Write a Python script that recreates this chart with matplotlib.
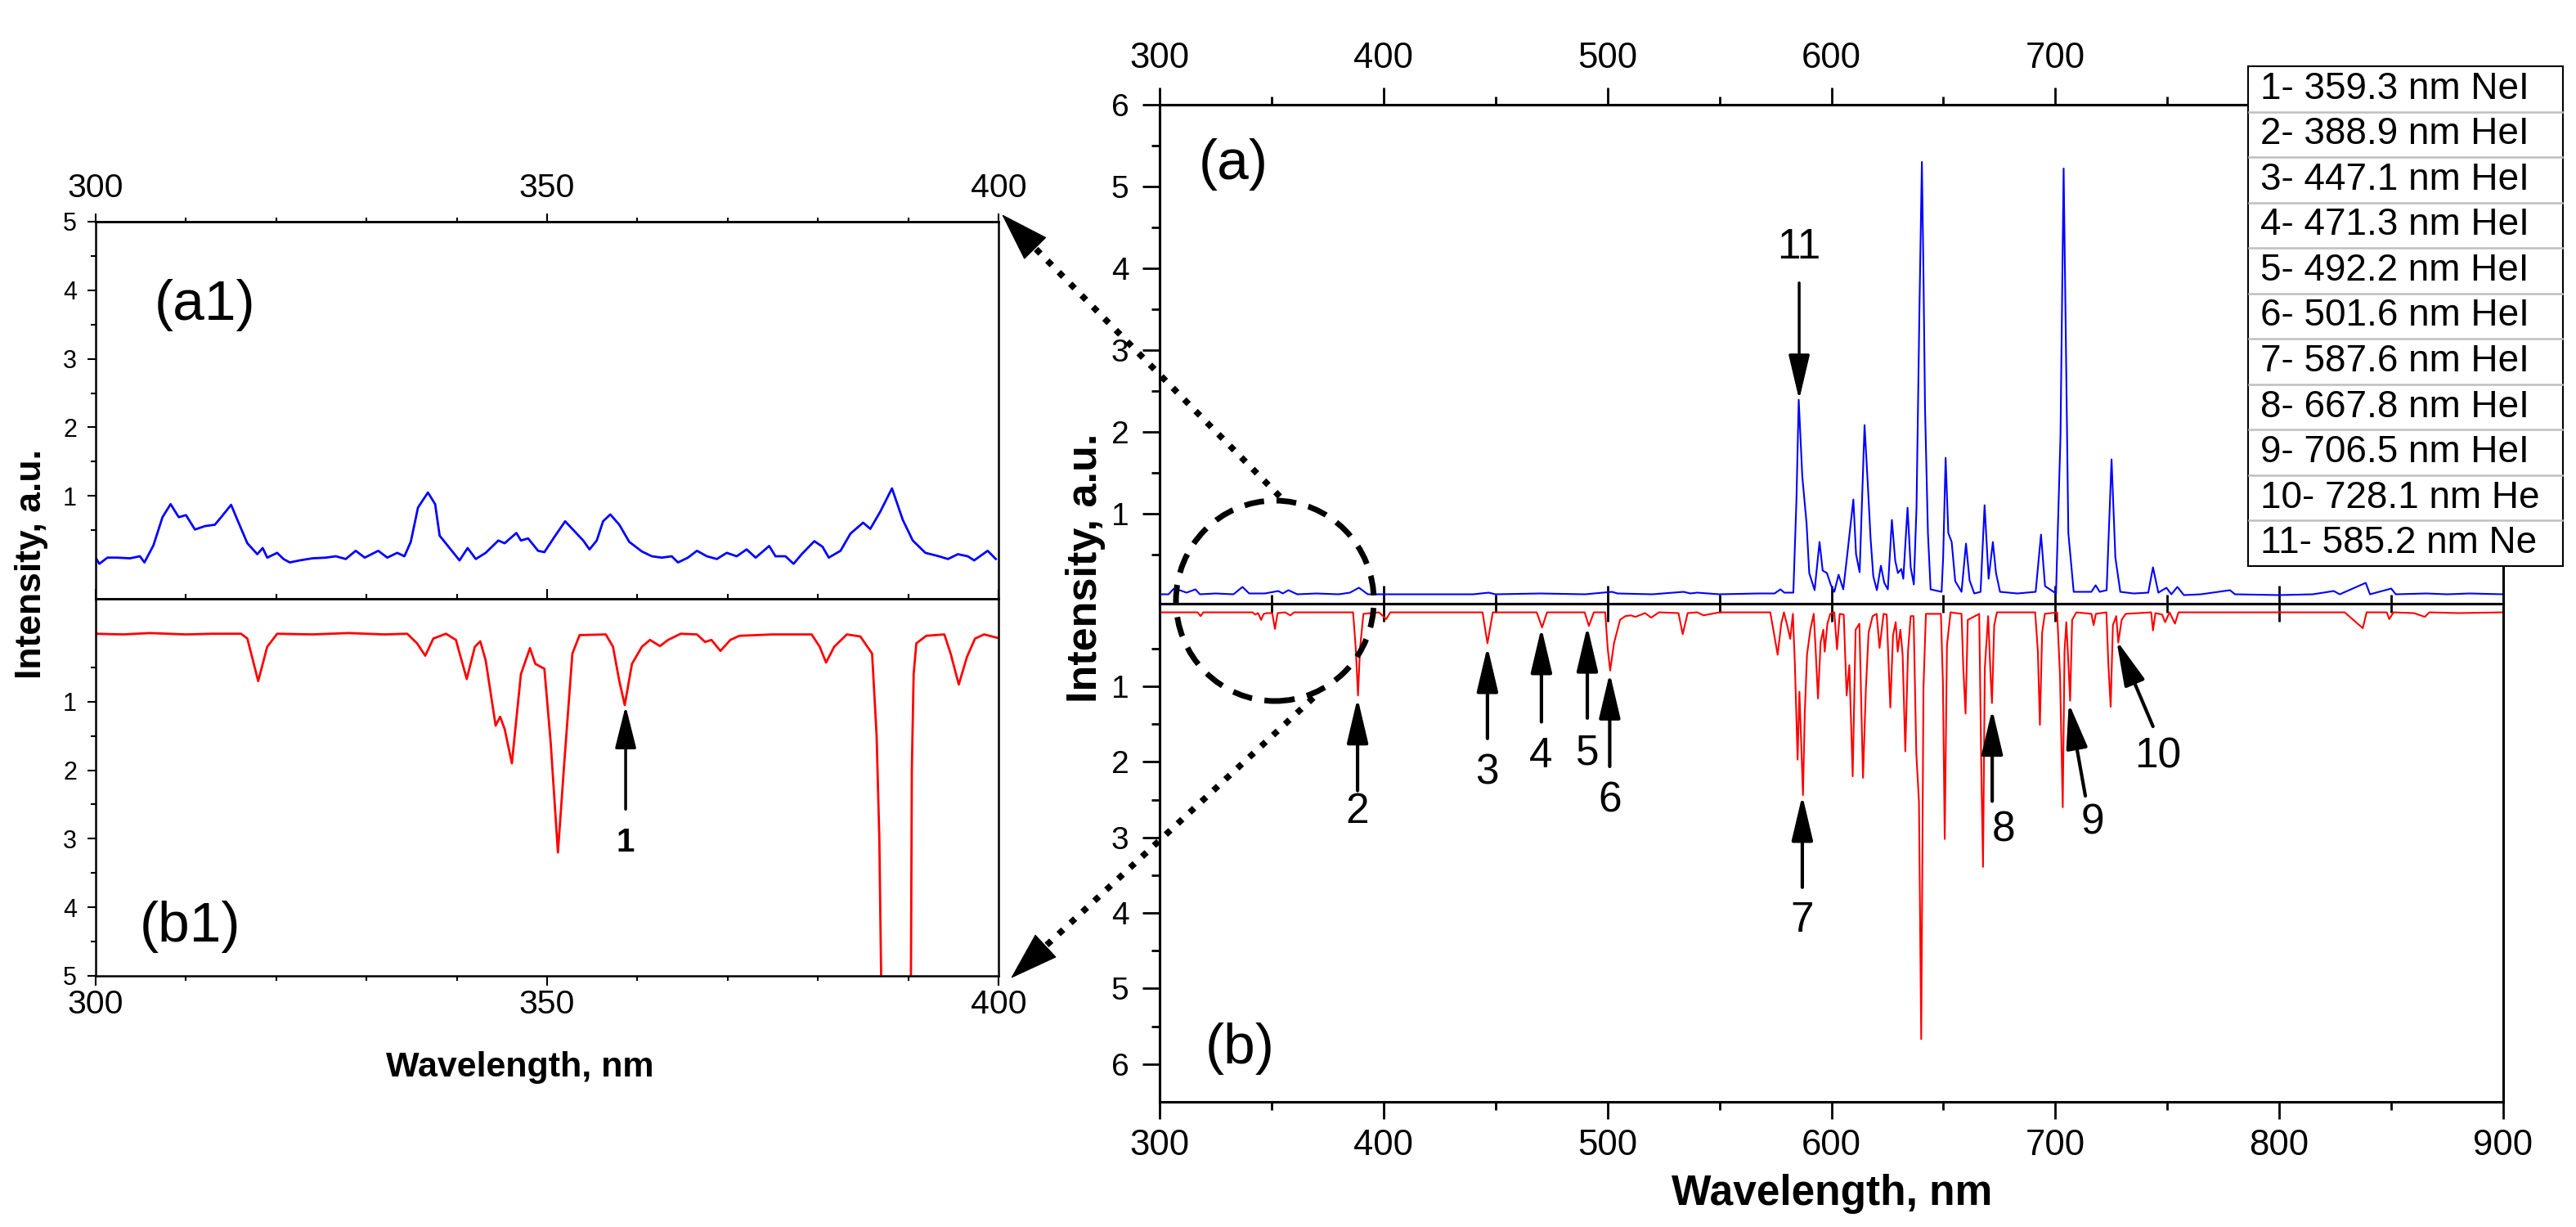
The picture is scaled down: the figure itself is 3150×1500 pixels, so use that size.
import matplotlib
matplotlib.use('Agg')
import matplotlib.pyplot as plt
import numpy as np
from matplotlib.ticker import MultipleLocator, FixedLocator, FuncFormatter
from matplotlib.patches import Ellipse, Rectangle, FancyArrowPatch
from matplotlib.lines import Line2D

plt.rcParams['font.family'] = ['Liberation Sans', 'DejaVu Sans']

# ---- zoomed emission spectrum (a1), 300-400 nm
a1_nm = [300.0, 300.4, 301.3, 302.4, 303.8, 304.9, 305.4, 306.4, 307.4, 308.3,
         309.2, 310.0, 311.0, 312.1, 313.2, 313.9, 315.0, 315.7, 316.8, 317.9,
         318.5, 319.0, 320.1, 320.8, 321.5, 322.6, 324.0, 325.5, 326.6, 327.7,
         328.8, 329.8, 331.3, 332.3, 333.4, 334.2, 334.9, 335.7, 336.8, 337.6,
         338.1, 339.2, 340.3, 341.2, 342.1, 343.2, 344.6, 345.3, 346.6, 347.1,
         347.9, 349.0, 349.7, 350.8, 352.0, 353.0, 354.0, 354.7, 355.5, 356.2,
         357.0, 358.0, 359.1, 360.5, 361.6, 362.7, 363.8, 364.5, 365.6, 366.6,
         367.7, 368.8, 369.9, 371.0, 372.1, 373.1, 374.6, 375.3, 376.4, 377.3,
         378.2, 379.6, 380.5, 381.2, 382.5, 383.6, 385.0, 385.8, 386.9, 388.2,
         389.4, 390.5, 391.9, 393.4, 394.4, 395.5, 396.6, 397.3, 398.8, 399.7]
a1_int = [0.10, 0.01, 0.10, 0.10, 0.09, 0.12, 0.03, 0.28, 0.69, 0.88,
          0.69, 0.72, 0.51, 0.56, 0.58, 0.69, 0.87, 0.65, 0.31, 0.15,
          0.24, 0.10, 0.17, 0.08, 0.03, 0.06, 0.09, 0.10, 0.12, 0.08,
          0.20, 0.10, 0.20, 0.10, 0.17, 0.12, 0.33, 0.83, 1.05, 0.88,
          0.42, 0.24, 0.06, 0.24, 0.08, 0.17, 0.35, 0.31, 0.46, 0.35,
          0.38, 0.20, 0.18, 0.40, 0.63, 0.49, 0.35, 0.22, 0.35, 0.63,
          0.73, 0.58, 0.33, 0.19, 0.12, 0.10, 0.12, 0.03, 0.10, 0.20,
          0.12, 0.08, 0.17, 0.12, 0.22, 0.10, 0.27, 0.12, 0.12, 0.01,
          0.15, 0.34, 0.26, 0.10, 0.20, 0.45, 0.61, 0.52, 0.77, 1.11,
          0.65, 0.35, 0.17, 0.12, 0.08, 0.15, 0.12, 0.06, 0.20, 0.08]

# ---- zoomed reference spectrum (b1), 300-400 nm
b1_nm = [300.0, 303.0, 306.0, 310.0, 313.0, 316.1, 316.8, 318.0, 319.0, 320.1,
         324.0, 328.0, 332.0, 334.5, 335.6, 336.5, 337.4, 338.8, 339.9, 341.1,
         342.0, 342.6, 343.2, 344.3, 344.8, 345.3, 346.1, 347.1, 348.1, 348.7,
         349.7, 350.4, 351.2, 351.9, 352.8, 353.6, 356.5, 357.3, 358.0, 358.6,
         359.4, 360.5, 361.4, 362.5, 363.4, 364.8, 366.6, 367.5, 368.2, 369.2,
         370.3, 371.3, 375.0, 379.3, 380.2, 380.9, 381.8, 383.2, 384.7, 386.0,
         386.5, 386.8, 387.0, 388.7, 390.3, 390.4, 390.6, 390.9, 392.0, 394.0,
         394.7, 395.6, 396.5, 397.4, 398.4, 399.9]
b1_int = [0.01, 0.02, 0.00, 0.02, 0.01, 0.01, 0.08, 0.70, 0.20, 0.01,
          0.02, 0.00, 0.02, 0.01, 0.15, 0.33, 0.08, 0.01, 0.10, 0.67,
          0.20, 0.12, 0.40, 1.35, 1.22, 1.40, 1.90, 0.60, 0.22, 0.45,
          0.52, 1.60, 3.20, 1.90, 0.30, 0.03, 0.02, 0.20, 0.70, 1.05,
          0.45, 0.20, 0.10, 0.19, 0.10, 0.01, 0.02, 0.13, 0.10, 0.26,
          0.10, 0.04, 0.02, 0.02, 0.20, 0.43, 0.20, 0.02, 0.05, 0.30,
          1.50, 3.00, 5.00, 9.00, 5.00, 2.00, 0.60, 0.15, 0.04, 0.02,
          0.30, 0.75, 0.35, 0.08, 0.02, 0.07]

# ---- full emission spectrum (a), 300-900 nm
a_nm = [300.0, 304.0, 306.2, 309.0, 312.0, 316.0, 318.0, 325.0, 333.0, 337.0,
        340.0, 347.0, 353.0, 355.0, 357.5, 361.5, 370.0, 380.0, 385.0, 389.0,
        393.0, 400.0, 420.0, 440.0, 447.0, 450.0, 470.0, 490.0, 502.0, 504.5,
        520.0, 534.0, 537.0, 540.0, 550.0, 567.3, 574.6, 577.2, 579.0, 583.0,
        584.4, 585.4, 587.0, 588.9, 590.1, 592.5, 594.7, 596.1, 598.0, 599.8,
        601.3, 603.2, 605.3, 607.1, 609.8, 611.0, 612.6, 614.8, 616.2, 617.5,
        618.7, 620.3, 622.1, 623.6, 625.2, 627.0, 628.5, 629.7, 631.2, 632.1,
        634.0, 635.4, 636.8, 638.0, 639.3, 640.4, 641.1, 641.8, 643.1, 644.3,
        649.2, 649.9, 651.0, 652.2, 653.7, 655.3, 658.1, 660.1, 661.7, 663.8,
        666.6, 668.4, 670.2, 672.1, 673.5, 675.3, 683.0, 691.2, 693.6, 695.4,
        700.3, 702.3, 703.7, 704.7, 705.8, 708.2, 716.1, 718.0, 719.8, 722.9,
        725.1, 726.8, 729.0, 735.0, 741.5, 743.6, 746.0, 749.6, 751.8, 754.5,
        757.4, 765.0, 778.0, 780.2, 800.0, 815.0, 824.3, 827.0, 838.6, 840.5,
        850.0, 852.0, 865.7, 875.0, 885.0, 900.0]
a_int = [0.01, 0.01, 0.075, 0.06, 0.03, 0.07, 0.01, 0.02, 0.01, 0.10,
         0.02, 0.02, 0.05, 0.02, 0.06, 0.01, 0.02, 0.01, 0.03, 0.09,
         0.01, 0.01, 0.01, 0.01, 0.03, 0.01, 0.02, 0.01, 0.04, 0.02,
         0.01, 0.04, 0.02, 0.03, 0.01, 0.02, 0.02, 0.07, 0.03, 0.03,
         1.18, 2.39, 1.45, 0.88, 0.27, 0.06, 0.65, 0.30, 0.27, 0.12,
         0.04, 0.25, 0.07, 0.50, 1.17, 0.50, 0.28, 2.08, 1.38, 0.69,
         0.23, 0.06, 0.36, 0.15, 0.07, 0.92, 0.42, 0.27, 0.32, 0.20,
         1.07, 0.34, 0.13, 1.07, 3.48, 5.30, 3.95, 2.29, 0.76, 0.07,
         0.04, 0.46, 1.68, 0.76, 0.65, 0.17, 0.04, 0.63, 0.18, 0.02,
         0.04, 1.10, 0.20, 0.65, 0.27, 0.04, 0.02, 0.04, 0.74, 0.11,
         0.02, 1.95, 5.22, 3.10, 0.76, 0.04, 0.04, 0.12, 0.04, 0.06,
         1.66, 0.46, 0.04, 0.02, 0.03, 0.34, 0.03, 0.09, 0.01, 0.10,
         0.00, 0.01, 0.06, 0.01, 0.00, 0.01, 0.05, 0.01, 0.15, 0.01,
         0.08, 0.01, 0.02, 0.01, 0.02, 0.01]

# ---- full reference spectrum (b), 300-900 nm
b_nm = [300.0, 310.0, 317.0, 318.3, 319.5, 330.0, 341.5, 342.7, 344.0, 345.3,
        346.5, 348.0, 350.3, 351.5, 352.7, 356.0, 358.4, 360.0, 375.0, 386.4,
        387.6, 388.6, 389.5, 391.0, 398.0, 401.2, 403.0, 420.0, 444.2, 446.4,
        448.8, 460.0, 468.4, 470.8, 473.0, 480.0, 489.8, 491.7, 493.9, 499.0,
        500.1, 501.2, 502.9, 505.6, 508.0, 510.4, 512.5, 516.8, 519.5, 523.0,
        531.7, 533.6, 535.8, 540.1, 542.9, 550.0, 560.0, 567.3, 572.7, 574.3,
        576.0, 577.6, 578.8, 580.4, 581.6, 582.8, 583.7, 584.9, 585.7, 586.3,
        587.3, 588.1, 589.1, 590.6, 592.1, 593.0, 594.0, 595.2, 596.4, 597.0,
        598.2, 599.5, 601.3, 602.5, 603.7, 605.5, 606.8, 608.0, 609.5, 610.8,
        612.5, 614.1, 615.4, 616.6, 618.4, 620.2, 621.5, 623.3, 624.7, 626.3,
        627.5, 628.7, 629.6, 630.8, 631.8, 633.0, 634.2, 635.4, 636.7, 637.9,
        639.1, 640.1, 641.1, 642.2, 648.9, 649.8, 650.6, 651.6, 653.2, 658.1,
        658.9, 659.9, 660.9, 666.0, 667.0, 667.7, 668.5, 670.0, 671.1, 671.7,
        672.7, 673.9, 691.0, 692.2, 693.1, 694.1, 695.3, 700.8, 702.1, 703.3,
        704.1, 704.9, 705.7, 706.6, 707.5, 709.4, 716.1, 717.1, 718.1, 722.8,
        723.7, 724.7, 725.7, 727.2, 728.1, 729.6, 731.4, 742.8, 743.6, 744.7,
        747.7, 749.0, 751.0, 753.4, 755.0, 790.0, 829.2, 837.3, 839.0, 848.0,
        849.1, 851.0, 860.1, 865.0, 867.0, 880.0, 900.0]
b_int = [0.02, 0.02, 0.02, 0.07, 0.02, 0.02, 0.02, 0.05, 0.03, 0.12,
         0.04, 0.03, 0.03, 0.24, 0.03, 0.02, 0.06, 0.02, 0.02, 0.02,
         0.50, 1.12, 0.50, 0.04, 0.02, 0.11, 0.02, 0.02, 0.02, 0.43,
         0.02, 0.02, 0.02, 0.22, 0.02, 0.02, 0.02, 0.20, 0.02, 0.02,
         0.50, 0.79, 0.43, 0.12, 0.07, 0.06, 0.08, 0.03, 0.09, 0.02,
         0.03, 0.31, 0.03, 0.02, 0.06, 0.02, 0.02, 0.02, 0.02, 0.29,
         0.58, 0.17, 0.02, 0.21, 0.37, 0.04, 0.72, 1.97, 1.07, 1.57,
         2.44, 1.36, 0.58, 0.25, 0.04, 0.54, 1.16, 0.41, 0.25, 0.54,
         0.17, 0.04, 0.02, 0.51, 0.04, 0.05, 1.12, 0.72, 2.19, 0.25,
         0.17, 2.21, 1.03, 0.29, 0.07, 0.04, 0.49, 0.04, 0.05, 1.28,
         0.33, 0.15, 0.54, 0.25, 0.58, 1.86, 0.54, 0.07, 0.07, 1.88,
         2.53, 5.67, 1.03, 0.04, 0.04, 0.96, 3.02, 0.46, 0.02, 0.04,
         0.76, 1.36, 0.12, 0.04, 2.21, 3.39, 0.76, 0.07, 0.87, 1.22,
         0.19, 0.02, 0.02, 0.54, 1.51, 0.29, 0.04, 0.02, 0.87, 2.60,
         0.54, 0.15, 0.62, 1.19, 0.12, 0.02, 0.04, 0.19, 0.04, 0.02,
         0.72, 1.27, 0.19, 0.07, 0.42, 0.12, 0.04, 0.02, 0.26, 0.03,
         0.05, 0.15, 0.02, 0.17, 0.02, 0.02, 0.02, 0.23, 0.02, 0.02,
         0.11, 0.02, 0.03, 0.08, 0.02, 0.03, 0.02]

# line labels: (label, tip x, tip y, tail x, tail y, text x, text y)
lines_a = [('11', 585.6, 2.39, 585.6, 3.82, 585.5, 4.25)]
lines_b = [('2', 388.4, 1.15, 388.4, 2.38, 388.4, 2.66),
           ('3', 446.4, 0.47, 446.4, 1.69, 446.2, 2.15),
           ('4', 470.5, 0.22, 470.5, 1.47, 470.2, 1.93),
           ('5', 491.0, 0.20, 491.0, 1.42, 491.0, 1.89),
           ('6', 501.0, 0.82, 501.0, 2.06, 501.0, 2.52),
           ('7', 587.0, 2.44, 587.0, 3.66, 587.0, 4.10),
           ('8', 671.8, 1.30, 671.8, 2.52, 677.0, 2.91),
           ('9', 706.0, 1.22, 713.4, 2.45, 716.6, 2.81),
           ('10', 727.3, 0.39, 743.6, 1.53, 745.8, 1.93)]
lines_b1 = [('1', 358.7, 1.06, 358.7, 2.57, 358.7, 3.05)]

legend_rows = ['1- 359.3 nm NeI', '2- 388.9 nm HeI', '3- 447.1 nm HeI',
               '4- 471.3 nm HeI', '5- 492.2 nm HeI', '6- 501.6 nm HeI',
               '7- 587.6 nm HeI', '8- 667.8 nm HeI', '9- 706.5 nm HeI',
               '10- 728.1 nm He', '11- 585.2 nm Ne']

W, H = 3150, 1500


def fpx(x, y):
    # pixel position (from top-left) -> figure fraction
    return x / W, 1 - y / H


def box(l, t, r, b):
    x0, y1 = fpx(l, t)
    x1, y0 = fpx(r, b)
    return [x0, y0, x1 - x0, y1 - y0]


fig = plt.figure(figsize=(31.5, 15), dpi=100)
ax_a1 = fig.add_axes(box(117, 271, 1221, 732))
ax_b1 = fig.add_axes(box(117, 732, 1221, 1193))
ax_a = fig.add_axes(box(1418, 128, 3061, 737.5))
ax_b = fig.add_axes(box(1418, 737.5, 3061, 1347))
for ax in (ax_a1, ax_b1, ax_a, ax_b):
    ax.patch.set_visible(False)

# ---- left inset panels
ax_a1.plot(a1_nm, a1_int, color='#0000ff', lw=2)
ax_b1.plot(b1_nm, b1_int, color='#ff0000', lw=2)
for ax in (ax_a1, ax_b1):
    ax.set_xlim(300, 400)
    ax.xaxis.set_major_locator(MultipleLocator(50))
    ax.xaxis.set_minor_locator(MultipleLocator(10))
    ax.yaxis.set_major_locator(FixedLocator([1, 2, 3, 4, 5]))
    ax.yaxis.set_minor_locator(FixedLocator([0.5, 1.5, 2.5, 3.5, 4.5]))
    for s in ax.spines.values():
        s.set_linewidth(1.8)
    ax.tick_params(axis='y', which='both', direction='out', left=True, right=False,
                   labelsize=22, width=1.5, pad=9)
    ax.tick_params(axis='y', which='major', length=7.5)
    ax.tick_params(axis='y', which='minor', length=4)
ax_a1.set_ylim(-0.5, 5)
ax_b1.set_ylim(5, -0.5)
ax_a1.tick_params(axis='x', which='both', direction='in', bottom=True, top=False,
                  labelbottom=False, width=1.5)
ax_a1.tick_params(axis='x', which='major', length=8.5)
ax_a1.tick_params(axis='x', which='minor', length=4.5)
sec = ax_a1.secondary_xaxis('top')
sec.xaxis.set_major_locator(MultipleLocator(50))
sec.xaxis.set_minor_locator(MultipleLocator(10))
sec.spines['top'].set_linewidth(1.8)
sec.tick_params(axis='x', which='both', direction='out', width=1.5, labelsize=29.5, pad=8)
sec.tick_params(axis='x', which='major', length=7.5)
sec.tick_params(axis='x', which='minor', length=3.5)
ax_b1.tick_params(axis='x', which='both', direction='out', bottom=True, top=False,
                  labelsize=29.5, width=1.5, pad=3)
ax_b1.tick_params(axis='x', which='major', length=8.5)
ax_b1.tick_params(axis='x', which='minor', length=4.5)

ax_a1.text(306.5, 3.78, '(a1)', fontsize=50, ha='left', va='center')
ax_b1.text(304.9, 4.28, '(b1)', fontsize=50, ha='left', va='center')

# ---- main panels
ax_a.plot(a_nm, a_int, color='#0000ff', lw=1.5)
ax_b.plot(b_nm, b_int, color='#ff0000', lw=1.5)
for ax in (ax_a, ax_b):
    ax.set_xlim(300, 900)
    ax.xaxis.set_major_locator(MultipleLocator(100))
    ax.xaxis.set_minor_locator(MultipleLocator(50))
    ax.yaxis.set_major_locator(FixedLocator([1, 2, 3, 4, 5, 6]))
    ax.yaxis.set_minor_locator(FixedLocator([0.5, 1.5, 2.5, 3.5, 4.5, 5.5]))
    for s in ax.spines.values():
        s.set_linewidth(2.2)
    ax.tick_params(axis='y', which='both', direction='out', left=True, right=False,
                   labelsize=28, width=2, pad=12)
    ax.tick_params(axis='y', which='major', length=15)
    ax.tick_params(axis='y', which='minor', length=7)
ax_a.set_ylim(-0.1, 6)
ax_b.set_ylim(6.5, -0.1)
ax_a.tick_params(axis='x', which='both', direction='inout', bottom=True, top=False,
                 labelbottom=False, width=2)
ax_a.tick_params(axis='x', which='major', length=31)
ax_a.tick_params(axis='x', which='minor', length=16)
sec2 = ax_a.secondary_xaxis('top')
sec2.xaxis.set_major_locator(MultipleLocator(100))
sec2.xaxis.set_minor_locator(MultipleLocator(50))
# labels behind the line-list box are not shown
sec2.xaxis.set_major_formatter(FuncFormatter(lambda v, p: '%d' % v if v < 750 else ''))
sec2.spines['top'].set_linewidth(2.2)
sec2.tick_params(axis='x', which='both', direction='out', width=2, labelsize=31.5, pad=11)
sec2.tick_params(axis='x', which='major', length=15)
sec2.tick_params(axis='x', which='minor', length=7)
ax_b.tick_params(axis='x', which='both', direction='out', bottom=True, top=False,
                 labelsize=31.5, width=2, pad=9)
ax_b.tick_params(axis='x', which='major', length=15)
ax_b.tick_params(axis='x', which='minor', length=7)

ax_a.text(317.5, 5.27, '(a)', fontsize=50, ha='left', va='center')
ax_b.text(320.5, 5.8, '(b)', fontsize=50, ha='left', va='center')


def label_arrows(ax, items, size, hl, hw, lw, bold=False):
    for lab, tx, ty, sx, sy, lx, ly in items:
        ax.annotate('', xy=(tx, ty), xytext=(sx, sy),
                    arrowprops=dict(arrowstyle='-|>,head_length=%g,head_width=%g' % (hl, hw),
                                    mutation_scale=10, color='k', lw=lw,
                                    shrinkA=0, shrinkB=0))
        ax.text(lx, ly, lab, fontsize=size, ha='center', va='center',
                fontweight='bold' if bold else 'normal')


label_arrows(ax_a, lines_a, 37, 3.4, 0.8, 2.5)
label_arrows(ax_b, lines_b, 37, 3.4, 0.8, 3)
label_arrows(ax_b1, lines_b1, 29, 3.2, 0.8, 2.5, bold=True)

# ---- axis titles
fig.text(*fpx(39, 689), 'Intensity, a.u.', rotation=90, ha='center', va='center',
         fontsize=32, fontweight='bold')
fig.text(*fpx(636, 1305), 'Wavelength, nm', ha='center', va='center',
         fontsize=31, fontweight='bold')
fig.text(*fpx(1327, 694), 'Intensity, a.u.', rotation=90, ha='center', va='center',
         fontsize=37.5, fontweight='bold')
fig.text(*fpx(2240, 1459), 'Wavelength, nm', ha='center', va='center',
         fontsize=37, fontweight='bold')

# ---- zoom circle and dotted pointers
fig.add_artist(Ellipse(fpx(1559, 734.5), 242 / W, 245 / H, transform=fig.transFigure,
                       fill=False, ec='k', lw=5, ls=(0, (3.5, 2.2)), zorder=3))


def dotted_pointer(start, tip):
    s = np.array(start, float)
    t = np.array(tip, float)
    d = (s - t) / np.hypot(*(s - t))
    base = t + 55 * d
    p0, p1 = fpx(*s), fpx(*base)
    fig.add_artist(Line2D([p0[0], p1[0]], [p0[1], p1[1]], transform=fig.transFigure,
                          color='k', lw=5.5, ls=(0, (1, 1.6)), dash_capstyle='butt', zorder=3))
    fig.add_artist(FancyArrowPatch(fpx(*base), fpx(*t), transform=fig.transFigure,
                                   arrowstyle='-|>,head_length=4.0,head_width=1.3',
                                   mutation_scale=10, color='k', lw=1,
                                   shrinkA=0, shrinkB=0, zorder=3))


dotted_pointer((1565, 607), (1225, 262))
dotted_pointer((1606, 853), (1236, 1196))

# ---- line list box
row_h = (692 - 81) / len(legend_rows)
fig.add_artist(Rectangle(fpx(2749, 692), 385 / W, 611 / H, transform=fig.transFigure,
                         fc='white', ec='k', lw=1.5, zorder=5))
for i, txt in enumerate(legend_rows):
    if i > 0:
        y = 81 + i * row_h
        p0, p1 = fpx(2750, y), fpx(3133, y)
        fig.add_artist(Line2D([p0[0], p1[0]], [p0[1], p1[1]], transform=fig.transFigure,
                              color='#bfbfbf', lw=1.8, zorder=6))
    fig.text(*fpx(2764, 81 + (i + 0.5) * row_h), txt, fontsize=33,
             ha='left', va='center', zorder=7)

fig.savefig('out.png', dpi=100)
